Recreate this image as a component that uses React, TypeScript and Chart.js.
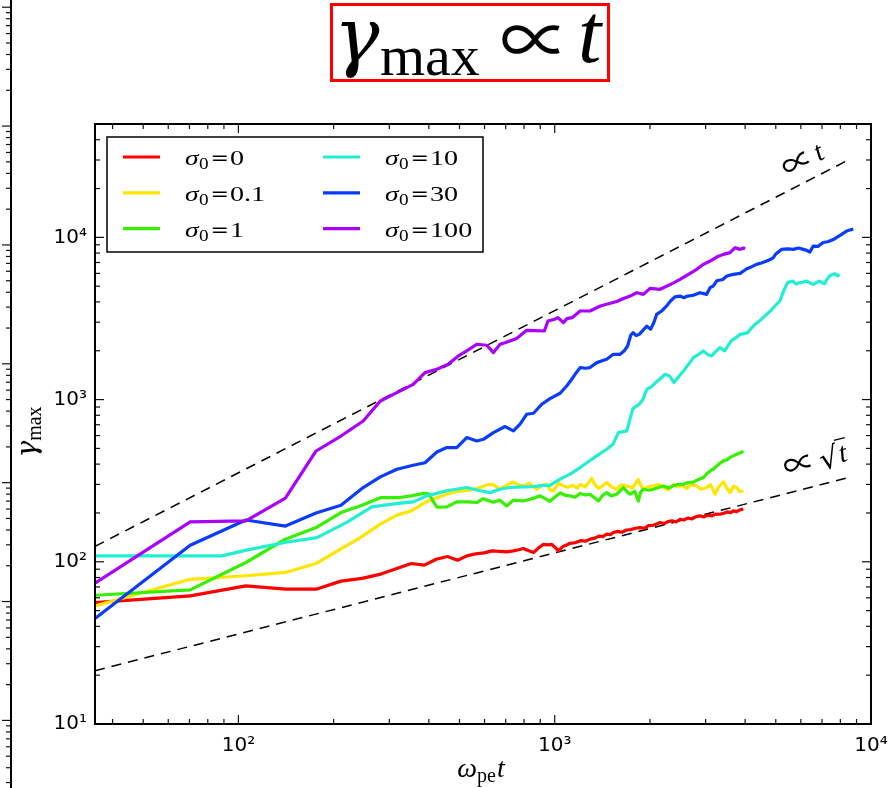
import { useEffect, useRef } from 'react';
import { Chart, registerables } from 'chart.js';

Chart.register(...registerables);

type Pair = [number, number];

const SERIF = '"Liberation Serif", "DejaVu Serif", serif';
const SYMBOL = '"DejaVu Serif", "Liberation Serif", serif';
const THIN_SYMBOL = '"Noto Sans CJK JP", "DejaVu Serif", serif';
const SANS = '"DejaVu Sans", "Liberation Sans", sans-serif';

// magnetisation values and their line colours
const sigmaLabels = ['0', '0.1', '1', '10', '30', '100'];
const sigmaColors = ['#ff0000', '#ffe600', '#36f000', '#22eed2', '#0a3cff', '#aa00ff'];

// (ω_pe t, γ_max) samples for each run
const sigma0: Pair[] = [
  [35.2, 56], [70.4, 61.6], [105.6, 71], [140.8, 67.8], [176, 67.8], [211, 76], [246, 79], [282, 84],
  [317, 91], [352, 97.6], [387, 95.3], [422, 103.7], [458, 107.8], [493, 102.3], [528, 108.7], [563, 112],
  [598, 113.5], [634, 116.7], [669, 116], [704, 115], [740, 116.8], [775, 119], [796, 120.8], [828, 117],
  [857, 114], [890, 122], [921, 128], [950, 127], [979, 128], [1010, 121], [1027, 116.8], [1060, 124],
  [1090, 127], [1118, 130], [1160, 131], [1205, 135], [1250, 134], [1293, 138], [1340, 140], [1380, 144],
  [1420, 143], [1460, 148], [1500, 147], [1532, 151.6], [1580, 154], [1630, 152], [1689, 157], [1740, 158],
  [1800, 161], [1862, 162.6], [1920, 161], [1980, 167], [2050, 168], [2100, 171], [2154, 174.6], [2220, 172],
  [2280, 177], [2350, 179], [2420, 176], [2490, 183], [2560, 181], [2640, 186], [2720, 184], [2800, 190],
  [2878, 191.8], [2960, 189], [3050, 194], [3140, 192], [3230, 197], [3327, 196.4], [3420, 199], [3510, 203],
  [3600, 201], [3670, 206], [3760, 204], [3850, 209], [3947, 211],
];

const sigma01: Pair[] = [
  [35.2, 53.5], [70.4, 78], [105.6, 82], [140.8, 86], [176, 97.6], [211, 120], [243, 141], [280, 170],
  [317, 194], [352, 206], [389, 232], [424, 248], [458, 262], [493, 272], [540, 276], [581, 287],
  [610, 298], [640, 300], [664, 283], [688, 287], [715, 302], [740, 310], [770, 298], [796, 293],
  [830, 305], [878, 280], [910, 295], [944, 300], [970, 276], [991, 274], [1030, 305], [1065, 293],
  [1100, 288], [1140, 296], [1180, 284], [1203, 300], [1250, 290], [1310, 326], [1340, 300], [1375, 283],
  [1420, 295], [1460, 308], [1510, 290], [1571, 280], [1620, 298], [1690, 293], [1760, 285], [1838, 322],
  [1870, 296], [1907, 280], [1970, 290], [2052, 293], [2130, 300], [2206, 287], [2290, 278], [2374, 300],
  [2450, 290], [2530, 296], [2615, 283], [2700, 300], [2813, 293], [2900, 280], [3023, 287], [3110, 300],
  [3212, 261], [3300, 290], [3414, 311], [3500, 285], [3583, 267], [3680, 292], [3762, 287], [3850, 270],
  [3948, 274],
];

const sigma1: Pair[] = [
  [35.2, 62.2], [70.4, 67.1], [105.6, 99], [140.8, 137.8], [176, 162.6], [211, 201], [246, 223], [282, 249],
  [324, 249], [352, 255], [384, 264], [400, 262], [424, 217], [456, 218], [490, 234], [530, 234],
  [567, 232], [594, 245], [640, 233], [671, 240], [705, 221], [740, 240], [796, 237], [850, 245],
  [898, 255], [930, 246], [966, 236], [1000, 250], [1040, 266], [1080, 257], [1118, 255], [1160, 250],
  [1203, 264], [1250, 258], [1293, 261], [1330, 250], [1375, 237], [1420, 258], [1460, 267], [1510, 255],
  [1571, 261], [1648, 287], [1700, 268], [1733, 261], [1790, 272], [1838, 237], [1870, 270], [1907, 280],
  [1980, 276], [2052, 280], [2130, 287], [2206, 293], [2290, 285], [2374, 294], [2450, 300], [2545, 300],
  [2640, 308], [2743, 310], [2850, 322], [2952, 331], [3030, 350], [3099, 363], [3170, 372], [3253, 390],
  [3330, 405], [3414, 419], [3500, 425], [3583, 440], [3670, 450], [3762, 460], [3850, 468], [3948, 482],
];

const sigma10: Pair[] = [
  [35.2, 108.7], [70.4, 108.7], [88.6, 108.7], [106, 118], [140, 131.5], [177, 141], [220, 175], [264, 218],
  [324, 230], [357, 234], [394, 255], [456, 274], [527, 287], [581, 274], [624, 267], [672, 280],
  [720, 287], [790, 290], [857, 291], [920, 296], [966, 296], [1040, 323], [1118, 347], [1203, 381],
  [1280, 415], [1358, 450], [1460, 494], [1530, 531], [1589, 626], [1690, 641], [1767, 880], [1850, 936],
  [1900, 1000], [1955, 1157], [2020, 1200], [2086, 1273], [2160, 1350], [2233, 1432], [2306, 1400], [2384, 1273],
  [2470, 1390], [2554, 1500], [2650, 1650], [2743, 1815], [2850, 1900], [2952, 1995], [3040, 1900], [3131, 1857],
  [3230, 1980], [3327, 2090], [3448, 1995], [3530, 2150], [3610, 2296], [3730, 2400], [3857, 2524], [3960, 2550],
  [4080, 2588], [4180, 2750], [4300, 2910], [4480, 3100], [4680, 3357], [4830, 3550], [4970, 3776], [5150, 4053],
  [5300, 4700], [5450, 5260], [5650, 5382], [5800, 5150], [5930, 5260], [6100, 5300], [6266, 5382], [6400, 5250],
  [6566, 5132], [6700, 5250], [6880, 5382], [7000, 5250], [7130, 5188], [7250, 5500], [7400, 5780], [7540, 5900],
  [7680, 5975], [7820, 5800], [7960, 5917],
];

const sigma30: Pair[] = [
  [35.2, 44.7], [70.4, 126.5], [105.6, 181], [140.8, 166], [176, 200], [211, 223], [248, 287], [281, 334],
  [317, 372], [357, 394], [389, 408], [424, 475], [456, 506], [490, 506], [527, 583], [567, 556],
  [595, 569], [640, 626], [697, 682], [740, 641], [777, 705], [815, 812], [857, 824], [910, 936],
  [966, 1014], [1040, 1094], [1091, 1213], [1130, 1330], [1160, 1432], [1203, 1575], [1250, 1560], [1293, 1575],
  [1358, 1690], [1420, 1740], [1460, 1771], [1532, 1901], [1610, 1901], [1660, 2000], [1700, 2139], [1740, 2500],
  [1770, 2588], [1810, 2480], [1850, 2524], [1955, 2838], [2010, 2711], [2060, 3000], [2100, 3350], [2178, 3516],
  [2250, 3750], [2324, 4053], [2400, 4300], [2490, 4346], [2560, 4250], [2630, 4346], [2743, 4400], [2878, 4560],
  [3023, 4456], [3099, 4897], [3170, 5012], [3253, 5400], [3400, 5500], [3500, 5780], [3670, 5917], [3857, 6000],
  [4049, 6412], [4200, 6600], [4345, 6820], [4500, 6950], [4680, 7145], [4800, 7300], [4912, 7497], [5000, 7900],
  [5220, 8434], [5450, 8500], [5680, 8434], [5900, 8600], [6110, 8434], [6266, 8318], [6410, 8117], [6566, 8841],
  [6800, 8800], [7059, 9300], [7300, 9400], [7597, 9700], [7980, 10300], [8375, 10940], [8793, 11250],
];

const sigma100: Pair[] = [
  [35.2, 73.8], [70.4, 176], [105.6, 179], [140.8, 247], [176, 482], [211, 596], [248, 738], [281, 980],
  [317, 1104], [357, 1242], [389, 1466], [424, 1538], [461, 1655], [496, 1857], [527, 1995], [567, 2193],
  [610, 2163], [640, 1949], [672, 2193], [700, 2250], [758, 2377], [815, 2673], [870, 2660], [927, 2648],
  [952, 3050], [1000, 3130], [1024, 3199], [1065, 2980], [1093, 3155], [1135, 3199], [1203, 3516], [1293, 3516],
  [1394, 3776], [1460, 3870], [1571, 4025], [1650, 4200], [1733, 4346], [1817, 4560], [1907, 4456], [2002, 4850],
  [2154, 4786], [2324, 5132], [2384, 5260], [2490, 5510], [2647, 5917], [2813, 6360], [2952, 6820], [3099, 7145],
  [3253, 7565], [3414, 7855], [3583, 8050], [3720, 8640], [3857, 8434], [3950, 8600], [4000, 8511],
];

const sigmaSeries = [sigma0, sigma01, sigma1, sigma10, sigma30, sigma100];

// power-law guides and where their labels sit
const linearGuide: Pair[] = [[35.2, 124.5], [8400, 29700]];
const sqrtGuide: Pair[] = [[35.2, 21.3], [8570, 332]];
const guideLabelAt: Pair[] = [[6070, 30000], [6670, 425]];

const xRange: Pair = [35.2, 10000];
const yRange: Pair = [10, 50000];
const xTickValues = [100, 1000, 10000];
const xTickLabels = ['10²', '10³', '10⁴'];
const yTickValues = [10, 100, 1000, 10000];
const yTickLabels = ['10¹', '10²', '10³', '10⁴'];

// right-hand axis of the neighbouring panel
const sideRange: Pair = [0.27, 1.15e6];

function labelFor(values: number[], labels: string[], v: number): string {
  const i = values.findIndex((u) => Math.abs(Math.log10(u) - Math.log10(v)) < 1e-6);
  return i >= 0 ? labels[i] : '';
}

function logSteps(min: number, max: number) {
  const out: { v: number; major: boolean }[] = [];
  for (let e = Math.floor(Math.log10(min)); e <= Math.ceil(Math.log10(max)); e++) {
    for (let k = 1; k <= 9; k++) {
      const v = k * Math.pow(10, e);
      if (v >= min * 0.9999 && v <= max * 1.0001) out.push({ v, major: k === 1 });
    }
  }
  return out;
}

function seg(ctx: CanvasRenderingContext2D, x0: number, y0: number, x1: number, y1: number) {
  ctx.beginPath();
  ctx.moveTo(x0, y0);
  ctx.lineTo(x1, y1);
  ctx.stroke();
}

// text drawn with a horizontal stretch factor
function wideText(ctx: CanvasRenderingContext2D, text: string, x: number, y: number, sx: number) {
  ctx.save();
  ctx.translate(x, y);
  ctx.scale(sx, 1);
  ctx.fillText(text, 0, 0);
  ctx.restore();
}

const framePlugin = {
  id: 'frameTicks',
  afterDatasetsDraw(chart: any) {
    const { ctx, chartArea: a, scales } = chart;
    const xs = scales.x;
    const ys = scales.y;
    ctx.save();
    ctx.strokeStyle = '#111';
    ctx.lineWidth = 1.2;
    for (const { v, major } of logSteps(xs.min, xs.max)) {
      const p = xs.getPixelForValue(v);
      const len = major ? 9 : 5;
      seg(ctx, p, a.bottom, p, a.bottom - len);
      seg(ctx, p, a.top, p, a.top + len);
    }
    for (const { v, major } of logSteps(ys.min, ys.max)) {
      const p = ys.getPixelForValue(v);
      const len = major ? 9 : 5;
      seg(ctx, a.left, p, a.left + len, p);
      seg(ctx, a.right, p, a.right - len, p);
    }
    ctx.lineWidth = 2;
    ctx.strokeStyle = '#000';
    ctx.strokeRect(a.left, a.top, a.right - a.left, a.bottom - a.top);
    ctx.restore();
  },
};

type Part = { text: string; font: string; dx?: number; dy?: number };

function drawParts(ctx: CanvasRenderingContext2D, parts: Part[], x: number, y: number, align: 'left' | 'center') {
  let total = 0;
  for (const p of parts) {
    ctx.font = p.font;
    total += (p.dx ?? 0) + ctx.measureText(p.text).width;
  }
  let cx = align === 'center' ? x - total / 2 : x;
  for (const p of parts) {
    ctx.font = p.font;
    cx += p.dx ?? 0;
    ctx.fillText(p.text, cx, y + (p.dy ?? 0));
    cx += ctx.measureText(p.text).width;
  }
  return total;
}

const guidePlugin = {
  id: 'guideLabels',
  afterDatasetsDraw(chart: any) {
    const { ctx } = chart;
    const xs = chart.scales.x;
    const ys = chart.scales.y;
    [linearGuide, sqrtGuide].forEach((g, i) => {
      const x0 = xs.getPixelForValue(g[0][0]);
      const y0 = ys.getPixelForValue(g[0][1]);
      const x1 = xs.getPixelForValue(g[1][0]);
      const y1 = ys.getPixelForValue(g[1][1]);
      const ang = Math.atan2(y1 - y0, x1 - x0);
      const [lt, lg] = guideLabelAt[i];
      ctx.save();
      ctx.translate(xs.getPixelForValue(lt), ys.getPixelForValue(lg));
      ctx.rotate(ang);
      ctx.fillStyle = '#000';
      ctx.strokeStyle = '#000';
      ctx.textBaseline = 'alphabetic';
      const propFont = `32px ${THIN_SYMBOL}`;
      const tFont = `italic 28px ${SERIF}`;
      if (i === 0) {
        drawParts(ctx, [
          { text: '∝', font: propFont, dy: 2 },
          { text: 't', font: tFont, dx: 4 },
        ], 0, 9, 'center');
      } else {
        ctx.font = propFont;
        const wp = ctx.measureText('∝').width;
        ctx.font = `30px ${SYMBOL}`;
        const wr = ctx.measureText('√').width;
        ctx.font = tFont;
        const wt = ctx.measureText('t').width;
        const total = wp + 5 + wr + wt + 2;
        let cx = -total / 2;
        ctx.font = propFont;
        ctx.fillText('∝', cx, 11);
        cx += wp + 5;
        ctx.font = `30px ${SYMBOL}`;
        ctx.fillText('√', cx, 12);
        cx += wr;
        ctx.font = tFont;
        ctx.fillText('t', cx + 1, 9);
        ctx.lineWidth = 1.4;
        seg(ctx, cx - 0.5, 12 - 26.3, cx + wt + 3, 12 - 26.3);
      }
      ctx.restore();
    });
  },
};

const legendPlugin = {
  id: 'sigmaLegend',
  afterDraw(chart: any) {
    const { ctx, chartArea: a } = chart;
    const left = a.left + 12;
    const top = a.top + 13;
    const w = 376;
    const h = 115;
    ctx.save();
    ctx.fillStyle = '#fff';
    ctx.fillRect(left, top, w, h);
    ctx.strokeStyle = '#000';
    ctx.lineWidth = 1.5;
    ctx.strokeRect(left, top, w, h);
    ctx.textBaseline = 'alphabetic';
    sigmaLabels.forEach((lab, i) => {
      const col = Math.floor(i / 3);
      const row = i % 3;
      const lx = left + 16 + col * 200;
      const ly = top + 20 + row * 35.8;
      ctx.strokeStyle = sigmaColors[i];
      ctx.lineWidth = 3.2;
      seg(ctx, lx, ly, lx + 37, ly);
      ctx.fillStyle = '#000';
      const tx = lx + 62;
      ctx.font = `italic 22px ${SERIF}`;
      wideText(ctx, 'σ', tx, ly + 8, 1.25);
      ctx.font = `16px ${SERIF}`;
      wideText(ctx, '0', tx + 14, ly + 12, 1.2);
      ctx.font = `21px ${SYMBOL}`;
      wideText(ctx, '=', tx + 25.5, ly + 8, 1.05);
      ctx.font = `22px ${SERIF}`;
      wideText(ctx, lab, tx + 45, ly + 8, 1.28);
    });
    ctx.restore();
  },
};

const textPlugin = {
  id: 'figureText',
  afterDraw(chart: any) {
    const { ctx, chartArea: a } = chart;
    ctx.save();
    ctx.fillStyle = '#000';
    ctx.textBaseline = 'alphabetic';

    // boxed headline
    ctx.strokeStyle = '#ff0000';
    ctx.lineWidth = 3;
    ctx.strokeRect(331.5, 4.5, 277, 76);
    ctx.font = `italic 76px ${SYMBOL}`;
    ctx.fillText('γ', 334, 62);
    ctx.font = `58px ${SERIF}`;
    ctx.fillText('max', 380, 75);
    ctx.font = `70px ${THIN_SYMBOL}`;
    ctx.fillText('∝', 500, 66);
    ctx.font = `italic 84px ${SERIF}`;
    ctx.fillText('t', 578, 62);

    // x-axis title
    const cx = (a.left + a.right) / 2;
    drawParts(ctx, [
      { text: 'ω', font: `italic 28px ${SERIF}` },
      { text: 'pe', font: `20px ${SERIF}`, dy: 5 },
      { text: 't', font: `italic 28px ${SERIF}`, dx: 1 },
    ], cx - 2, 777, 'center');

    // y-axis title
    ctx.translate(30, 432);
    ctx.rotate(-Math.PI / 2);
    drawParts(ctx, [
      { text: 'γ', font: `italic 28px ${SYMBOL}` },
      { text: 'max', font: `20px ${SERIF}`, dy: 5 },
    ], 0, 6, 'center');
    ctx.restore();
  },
};

const sidePlugin = {
  id: 'sideAxis',
  afterDraw(chart: any) {
    const { ctx, chartArea: a } = chart;
    const ys = chart.scales.y;
    ctx.save();
    ctx.strokeStyle = '#111';
    ctx.lineWidth = 1.2;
    for (const { v, major } of logSteps(ys.min, ys.max)) {
      const p = ys.getPixelForValue(v);
      seg(ctx, a.right, p, a.right - (major ? 9 : 5), p);
    }
    ctx.lineWidth = 2;
    ctx.strokeStyle = '#000';
    seg(ctx, a.right, 0, a.right, chart.height);
    ctx.restore();
  },
};

export default function App() {
  const mainRef = useRef<HTMLCanvasElement>(null);
  const sideRef = useRef<HTMLCanvasElement>(null);

  useEffect(() => {
    const datasets: any[] = sigmaSeries.map((s, i) => ({
      label: `σ0 = ${sigmaLabels[i]}`,
      data: s.map(([x, y]) => ({ x, y })),
      borderColor: sigmaColors[i],
      backgroundColor: sigmaColors[i],
      borderWidth: 3.2,
      pointRadius: 0,
      tension: 0,
      fill: false,
      borderJoinStyle: 'round',
      order: sigmaSeries.length - i,
    }));
    [linearGuide, sqrtGuide].forEach((g, i) => {
      datasets.push({
        label: i === 0 ? '∝ t' : '∝ √t',
        data: g.map(([x, y]) => ({ x, y })),
        borderColor: '#000',
        borderWidth: 1.5,
        borderDash: [10, 7],
        pointRadius: 0,
        tension: 0,
        fill: false,
        order: 20,
      });
    });

    const main = new Chart(mainRef.current as HTMLCanvasElement, {
      type: 'line',
      data: { datasets },
      options: {
        responsive: false,
        animation: false,
        layout: { padding: { top: 124, right: 21, left: 0, bottom: 0 } },
        plugins: { legend: { display: false }, tooltip: { enabled: false }, title: { display: false } },
        scales: {
          x: {
            type: 'logarithmic',
            min: xRange[0],
            max: xRange[1],
            grid: { display: false, drawTicks: false },
            border: { display: false },
            ticks: {
              autoSkip: false,
              maxRotation: 0,
              minRotation: 0,
              padding: 10,
              color: '#000',
              font: { family: SANS, size: 20 },
              callback: (v: any) => labelFor(xTickValues, xTickLabels, Number(v)),
            },
            afterFit: (s: any) => {
              s.height = 64;
              s.paddingLeft = 0;
              s.paddingRight = 0;
            },
          },
          y: {
            type: 'logarithmic',
            min: yRange[0],
            max: yRange[1],
            grid: { display: false, drawTicks: false },
            border: { display: false },
            ticks: {
              autoSkip: false,
              padding: 8,
              color: '#000',
              font: { family: SANS, size: 20 },
              callback: (v: any) => labelFor(yTickValues, yTickLabels, Number(v)),
            },
            afterFit: (s: any) => {
              s.width = 95;
              s.paddingTop = 0;
              s.paddingBottom = 0;
            },
          },
        },
      } as any,
      plugins: [guidePlugin, framePlugin, legendPlugin, textPlugin],
    });

    const side = new Chart(sideRef.current as HTMLCanvasElement, {
      type: 'line',
      data: { datasets: [] },
      options: {
        responsive: false,
        animation: false,
        layout: { padding: 0 },
        plugins: { legend: { display: false }, tooltip: { enabled: false } },
        scales: {
          x: { type: 'linear', display: false },
          y: {
            type: 'logarithmic',
            position: 'right',
            min: sideRange[0],
            max: sideRange[1],
            grid: { display: false, drawTicks: false },
            border: { display: false },
            ticks: { display: false },
            afterFit: (s: any) => {
              s.width = 9;
              s.paddingTop = 0;
              s.paddingBottom = 0;
            },
          },
        },
      } as any,
      plugins: [sidePlugin],
    });

    return () => {
      main.destroy();
      side.destroy();
    };
  }, []);

  return (
    <div style={{ position: 'fixed', left: 0, top: 0, width: 892, height: 788, background: '#fff' }}>
      <canvas ref={sideRef} width={20} height={788} style={{ position: 'absolute', left: 0, top: 0 }} />
      <canvas ref={mainRef} width={892} height={788} style={{ position: 'absolute', left: 0, top: 0 }} />
    </div>
  );
}
